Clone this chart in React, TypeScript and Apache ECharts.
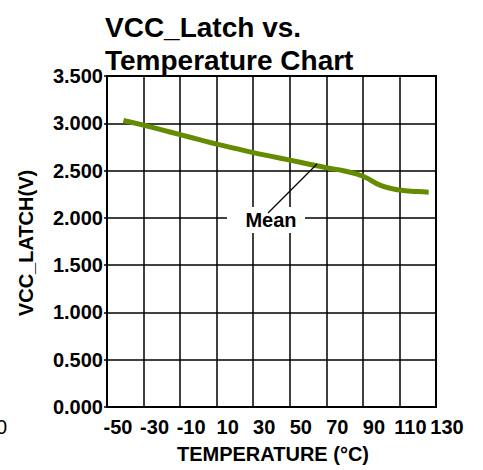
import React, { useEffect, useRef } from "react";
import * as echarts from "echarts";

const temperatures = [-41, -30, -20, -10, 0, 10, 20, 30, 40, 50, 60, 70, 80, 90, 100, 110, 120, 126];
const meanVoltage = [3.03, 2.98, 2.93, 2.88, 2.83, 2.78, 2.735, 2.69, 2.65, 2.61, 2.57, 2.53, 2.495, 2.44, 2.34, 2.295, 2.278, 2.272];
const xTickLabels = ["-50", "-30", "-10", "10", "30", "50", "70", "90", "110", "130"];
const X_OFFSET = 50; // axis counts from 0 so ticks fall on -50, -30, ...

const FONT = "'Liberation Sans', Arial, Helvetica, sans-serif";

export default function App() {
  const ref = useRef<HTMLDivElement>(null);
  useEffect(() => {
    if (!ref.current) return;
    const chart = echarts.init(ref.current, undefined, { renderer: "svg" });
    chart.setOption({
      animation: false,
      backgroundColor: "#ffffff",
      textStyle: { fontFamily: FONT },
      title: {
        text: "VCC_Latch vs.\nTemperature Chart",
        left: 100,
        top: 6,
        textStyle: { fontFamily: FONT, fontSize: 28, fontWeight: "bold", color: "#000", lineHeight: 33 },
      },
      grid: {
        left: 107,
        top: 76,
        width: 329,
        height: 331,
        show: true,
        borderColor: "#000",
        borderWidth: 2,
        backgroundColor: "transparent",
      },
      xAxis: {
        type: "value",
        min: 0,
        max: 180,
        interval: 20,
        axisLine: { show: true, lineStyle: { color: "#000", width: 2 } },
        axisTick: { show: false },
        splitLine: { show: true, lineStyle: { color: "#000", width: 1.5 } },
        axisLabel: {
          margin: 10,
          color: "#000",
          fontSize: 20,
          fontWeight: "bold",
          fontFamily: FONT,
          padding: [0, 0, 0, 22],
          formatter: (v: number) => xTickLabels[Math.round(v / 20)] ?? String(v - X_OFFSET),
        },
      },
      yAxis: {
        type: "value",
        min: 0,
        max: 3.5,
        interval: 0.5,
        axisLine: { show: true, lineStyle: { color: "#000", width: 2 } },
        axisTick: { show: true, length: 3, lineStyle: { color: "#000", width: 1.5 } },
        splitLine: { show: true, lineStyle: { color: "#000", width: 1.5 } },
        axisLabel: {
          margin: 4,
          color: "#000",
          fontSize: 20,
          fontWeight: "bold",
          fontFamily: FONT,
          formatter: (v: number) => v.toFixed(3),
        },
      },
      series: [
        {
          type: "line",
          name: "Mean",
          data: temperatures.map((t, i) => [t + X_OFFSET, meanVoltage[i]]),
          smooth: true,
          showSymbol: false,
          symbol: "none",
          lineStyle: { color: "#658c00", width: 5 },
          z: 5,
        },
      ],
      graphic: [
        {
          type: "text",
          rotation: Math.PI / 2,
          x: 26,
          y: 243,
          z: 100,
          style: {
            text: "VCC_LATCH(V)",
            align: "center",
            verticalAlign: "middle",
            font: `bold 20px ${FONT}`,
            fill: "#000",
          },
        },
        {
          type: "text",
          x: 273,
          y: 454,
          z: 100,
          style: {
            text: "TEMPERATURE (°C)",
            align: "center",
            verticalAlign: "middle",
            font: `bold 20px ${FONT}`,
            fill: "#000",
          },
        },
        {
          type: "rect",
          z: 100,
          shape: { x: 227, y: 207, width: 78, height: 26 },
          style: { fill: "#ffffff" },
        },
        {
          type: "line",
          z: 101,
          shape: { x1: 268, y1: 213, x2: 317, y2: 164 },
          style: { stroke: "#000", lineWidth: 1.3 },
        },
        {
          type: "text",
          x: 271,
          y: 220,
          z: 102,
          style: {
            text: "Mean",
            align: "center",
            verticalAlign: "middle",
            font: `bold 20px ${FONT}`,
            fill: "#000",
          },
        },
        {
          type: "text",
          x: -4,
          y: 427,
          z: 100,
          style: {
            text: "0",
            align: "left",
            verticalAlign: "middle",
            font: `20px ${FONT}`,
            fill: "#000",
          },
        },
      ],
    });
    return () => chart.dispose();
  }, []);
  return <div ref={ref} style={{ position: "absolute", left: 0, top: 0, width: 483, height: 470 }} />;
}
